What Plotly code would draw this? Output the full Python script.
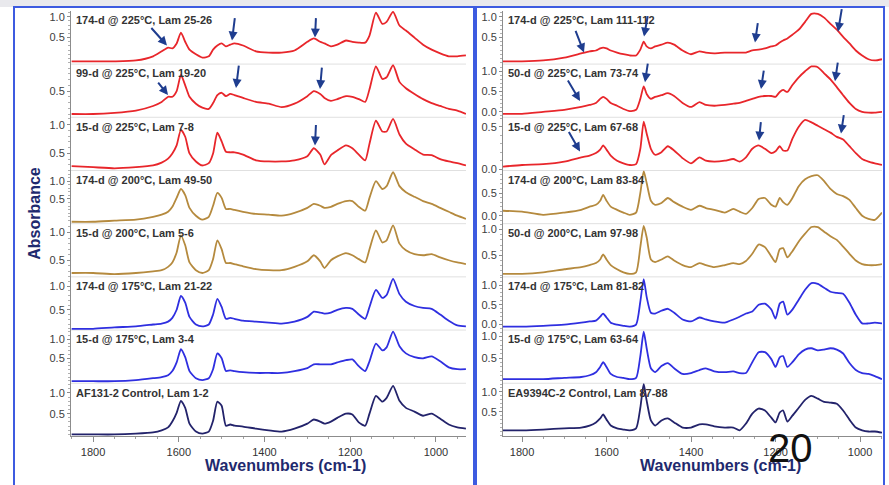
import plotly.graph_objects as go

# ---------------- data ----------------
wn_left = [1850, 1800, 1750, 1700, 1660, 1640, 1625, 1615, 1605, 1595,
           1585, 1575, 1560, 1545, 1530, 1520, 1510, 1500, 1490, 1480,
           1470, 1450, 1420, 1390, 1360, 1330, 1300, 1285, 1270, 1260,
           1245, 1230, 1210, 1195, 1180, 1165, 1155, 1140, 1125, 1115,
           1100, 1085, 1070, 1050, 1030, 1010, 990, 970, 950, 930]

af_174d_225 = [-0.07, -0.07, -0.07, -0.05, 0.05, 0.17, 0.26, 0.24, 0.36, 0.62,
               0.40, 0.21, 0.10, 0.02, 0.05, 0.21, 0.31, 0.36, 0.29, 0.33,
               0.36, 0.31, 0.17, 0.14, 0.14, 0.19, 0.40, 0.48, 0.40, 0.36,
               0.29, 0.33, 0.43, 0.40, 0.38, 0.38, 0.55, 1.10, 0.83, 0.88,
               1.12, 0.79, 0.67, 0.50, 0.33, 0.21, 0.12, 0.05, 0.05, 0.07]
af_99d_225 = [0.10, 0.10, 0.12, 0.16, 0.24, 0.31, 0.40, 0.40, 0.50, 0.78,
              0.60, 0.40, 0.28, 0.21, 0.19, 0.29, 0.43, 0.47, 0.41, 0.45,
              0.43, 0.38, 0.31, 0.28, 0.22, 0.28, 0.41, 0.50, 0.45, 0.38,
              0.33, 0.36, 0.41, 0.40, 0.36, 0.31, 0.53, 0.93, 0.71, 0.74,
              0.95, 0.66, 0.55, 0.45, 0.36, 0.29, 0.24, 0.19, 0.16, 0.10]
af_15d_225 = [0.28, 0.26, 0.24, 0.26, 0.29, 0.34, 0.41, 0.50, 0.64, 0.91,
              0.79, 0.50, 0.36, 0.29, 0.33, 0.50, 0.86, 0.71, 0.53, 0.52,
              0.52, 0.48, 0.38, 0.36, 0.36, 0.38, 0.45, 0.59, 0.48, 0.31,
              0.47, 0.55, 0.64, 0.59, 0.48, 0.38, 0.67, 1.07, 0.88, 0.88,
              1.10, 0.83, 0.67, 0.57, 0.48, 0.47, 0.40, 0.36, 0.33, 0.29]
af_174d_200 = [-0.14, -0.14, -0.11, -0.08, 0.00, 0.06, 0.14, 0.28, 0.53, 0.78,
               0.61, 0.25, 0.03, -0.08, 0.00, 0.31, 0.67, 0.53, 0.22, 0.22,
               0.19, 0.14, 0.08, 0.06, 0.03, 0.11, 0.25, 0.36, 0.31, 0.25,
               0.28, 0.36, 0.44, 0.44, 0.28, 0.17, 0.53, 1.00, 0.78, 0.86,
               1.25, 0.86, 0.69, 0.56, 0.44, 0.36, 0.25, 0.14, 0.03, -0.06]
af_15d_200 = [0.27, 0.27, 0.25, 0.27, 0.30, 0.32, 0.38, 0.46, 0.64, 0.95,
              0.77, 0.46, 0.32, 0.27, 0.32, 0.52, 0.86, 0.70, 0.45, 0.45,
              0.43, 0.39, 0.34, 0.32, 0.32, 0.38, 0.48, 0.59, 0.48, 0.36,
              0.50, 0.57, 0.63, 0.59, 0.52, 0.46, 0.70, 1.04, 0.82, 0.86,
              1.13, 0.80, 0.68, 0.61, 0.59, 0.61, 0.55, 0.50, 0.46, 0.43]
af_174d_175 = [0.10, 0.10, 0.13, 0.15, 0.19, 0.21, 0.25, 0.33, 0.50, 0.79,
               0.65, 0.35, 0.19, 0.15, 0.19, 0.40, 0.73, 0.56, 0.31, 0.33,
               0.31, 0.27, 0.25, 0.23, 0.21, 0.25, 0.35, 0.46, 0.44, 0.42,
               0.44, 0.50, 0.54, 0.52, 0.40, 0.31, 0.56, 0.92, 0.75, 0.81,
               1.15, 0.83, 0.67, 0.58, 0.54, 0.52, 0.40, 0.27, 0.17, 0.15]
af_15d_175 = [-0.11, -0.11, -0.11, -0.08, -0.03, 0.00, 0.05, 0.16, 0.39, 0.74,
              0.53, 0.16, -0.03, -0.08, -0.03, 0.21, 0.63, 0.50, 0.16, 0.18,
              0.16, 0.13, 0.11, 0.11, 0.11, 0.16, 0.24, 0.34, 0.34, 0.34,
              0.34, 0.39, 0.45, 0.47, 0.29, 0.16, 0.42, 0.89, 0.71, 0.79,
              1.21, 0.82, 0.63, 0.53, 0.50, 0.55, 0.42, 0.26, 0.21, 0.21]
af_control = [0.00, 0.00, 0.00, 0.02, 0.05, 0.10, 0.17, 0.31, 0.52, 0.81,
              0.64, 0.26, 0.07, 0.02, 0.07, 0.33, 0.79, 0.69, 0.21, 0.24,
              0.21, 0.19, 0.14, 0.10, 0.07, 0.14, 0.26, 0.36, 0.31, 0.26,
              0.31, 0.40, 0.50, 0.48, 0.29, 0.21, 0.50, 0.93, 0.79, 0.88,
              1.17, 0.81, 0.64, 0.55, 0.45, 0.50, 0.38, 0.24, 0.17, 0.14]

wn_right = [1845, 1800, 1750, 1700, 1660, 1640, 1625, 1615, 1608, 1600,
            1590, 1575, 1560, 1545, 1530, 1520, 1512, 1505, 1495, 1485,
            1470, 1455, 1440, 1420, 1400, 1380, 1365, 1345, 1320, 1300,
            1285, 1270, 1255, 1240, 1225, 1210, 1200, 1190, 1182, 1172,
            1160, 1145, 1130, 1115, 1100, 1085, 1070, 1055, 1040, 1025,
            1010, 995, 980, 965, 948]

ea_174d_225 = [-0.07, -0.07, -0.05, 0.02, 0.12, 0.17, 0.19, 0.24, 0.26, 0.24,
               0.19, 0.14, 0.10, 0.07, 0.07, 0.21, 0.40, 0.29, 0.24, 0.29,
               0.33, 0.38, 0.33, 0.19, 0.10, 0.17, 0.14, 0.12, 0.14, 0.14,
               0.14, 0.14, 0.19, 0.21, 0.24, 0.29, 0.31, 0.38, 0.43, 0.48,
               0.57, 0.69, 0.88, 1.07, 1.07, 0.98, 0.83, 0.69, 0.52, 0.36,
               0.19, 0.07, -0.02, -0.05, -0.02]
ea_50d_225 = [-0.05, -0.05, 0.00, 0.05, 0.12, 0.17, 0.22, 0.32, 0.37, 0.32,
              0.22, 0.15, 0.07, 0.02, 0.05, 0.32, 0.63, 0.44, 0.32, 0.37,
              0.41, 0.46, 0.39, 0.22, 0.12, 0.24, 0.17, 0.15, 0.17, 0.20,
              0.22, 0.27, 0.32, 0.37, 0.39, 0.39, 0.37, 0.49, 0.54, 0.49,
              0.66, 0.85, 1.00, 1.12, 1.10, 0.95, 0.80, 0.61, 0.41, 0.22,
              0.07, 0.00, -0.02, -0.02, 0.00]
ea_15d_225 = [0.03, 0.05, 0.06, 0.09, 0.14, 0.16, 0.19, 0.23, 0.28, 0.23,
              0.16, 0.10, 0.07, 0.05, 0.06, 0.24, 0.56, 0.42, 0.24, 0.17,
              0.20, 0.27, 0.22, 0.13, 0.07, 0.14, 0.10, 0.09, 0.10, 0.12,
              0.09, 0.14, 0.24, 0.28, 0.24, 0.19, 0.21, 0.27, 0.22, 0.22,
              0.36, 0.50, 0.58, 0.55, 0.51, 0.47, 0.43, 0.38, 0.35, 0.27,
              0.19, 0.12, 0.09, 0.07, 0.05]
ea_174d_200 = [0.11, 0.09, 0.02, 0.07, 0.13, 0.20, 0.24, 0.33, 0.46, 0.33,
               0.20, 0.13, 0.07, 0.02, 0.07, 0.50, 0.98, 0.72, 0.33, 0.24,
               0.28, 0.39, 0.30, 0.20, 0.13, 0.22, 0.17, 0.13, 0.07, 0.15,
               0.09, 0.04, 0.17, 0.37, 0.39, 0.24, 0.20, 0.39, 0.30, 0.24,
               0.39, 0.65, 0.80, 0.87, 0.89, 0.76, 0.59, 0.48, 0.43, 0.35,
               0.17, 0.00, -0.07, -0.09, 0.07]
ea_50d_200 = [0.14, 0.14, 0.17, 0.23, 0.27, 0.31, 0.35, 0.42, 0.52, 0.42,
              0.31, 0.23, 0.17, 0.14, 0.17, 0.66, 1.07, 0.85, 0.42, 0.37,
              0.42, 0.48, 0.40, 0.31, 0.27, 0.35, 0.31, 0.27, 0.31, 0.35,
              0.33, 0.39, 0.53, 0.71, 0.66, 0.48, 0.37, 0.62, 0.64, 0.46,
              0.58, 0.77, 0.92, 1.05, 1.05, 0.96, 0.87, 0.80, 0.67, 0.53,
              0.40, 0.33, 0.31, 0.31, 0.33]
ea_174d_175 = [-0.05, -0.05, -0.03, 0.00, 0.05, 0.08, 0.10, 0.20, 0.28, 0.18,
               0.05, 0.00, -0.03, -0.05, 0.00, 0.58, 1.15, 0.70, 0.30, 0.28,
               0.35, 0.40, 0.30, 0.13, 0.08, 0.18, 0.13, 0.08, 0.05, 0.13,
               0.20, 0.28, 0.33, 0.50, 0.53, 0.38, 0.15, 0.53, 0.58, 0.25,
               0.38, 0.63, 0.88, 1.05, 1.03, 0.93, 0.83, 0.80, 0.78, 0.55,
               0.25, 0.03, 0.03, 0.05, 0.03]
ea_15d_175 = [0.02, 0.02, 0.02, 0.05, 0.07, 0.11, 0.18, 0.30, 0.41, 0.30,
              0.14, 0.07, 0.05, 0.02, 0.05, 0.55, 1.11, 0.73, 0.27, 0.18,
              0.32, 0.39, 0.27, 0.14, 0.16, 0.23, 0.27, 0.20, 0.18, 0.20,
              0.16, 0.16, 0.41, 0.64, 0.64, 0.48, 0.30, 0.52, 0.55, 0.30,
              0.41, 0.59, 0.70, 0.73, 0.68, 0.70, 0.73, 0.70, 0.61, 0.39,
              0.23, 0.16, 0.14, 0.09, 0.02]
ea_control = [0.03, 0.03, 0.05, 0.08, 0.10, 0.15, 0.23, 0.33, 0.43, 0.30,
              0.15, 0.08, 0.05, 0.03, 0.08, 0.60, 1.20, 0.78, 0.28, 0.15,
              0.28, 0.33, 0.23, 0.10, 0.10, 0.18, 0.18, 0.13, 0.10, 0.10,
              0.03, 0.20, 0.45, 0.58, 0.53, 0.35, 0.23, 0.48, 0.53, 0.25,
              0.40, 0.60, 0.80, 0.90, 0.83, 0.75, 0.73, 0.70, 0.53, 0.30,
              0.10, 0.03, 0.00, 0.00, -0.03]

left_labels = ["174-d @ 225°C, Lam 25-26", "99-d @ 225°C, Lam 19-20",
               "15-d @ 225°C, Lam 7-8", "174-d @ 200°C, Lam 49-50",
               "15-d @ 200°C, Lam 5-6", "174-d @ 175°C, Lam 21-22",
               "15-d @ 175°C, Lam 3-4", "AF131-2 Control, Lam 1-2"]
right_labels = ["174-d @ 225°C, Lam 111-112", "50-d @ 225°C, Lam 73-74",
                "15-d @ 225°C, Lam 67-68", "174-d @ 200°C, Lam 83-84",
                "50-d @ 200°C, Lam 97-98", "174-d @ 175°C, Lam 81-82",
                "15-d @ 175°C, Lam 63-64", "EA9394C-2 Control, Lam 87-88"]

left_yticks = [[0.5, 1.0], [0.5], [0.5, 1.0], [0.5, 1.0],
               [0.5, 1.0], [0.5, 1.0], [0.5, 1.0], [0.5, 1.0]]
right_yticks = [[0.5, 1.0], [0.0, 0.5, 1.0], [0.0, 0.5], [0.0, 0.5],
                [0.5, 1.0], [0.0, 0.5, 1.0], [0.5, 1.0], [0.5, 1.0]]
x_ticks = [1800, 1600, 1400, 1200, 1000]

# ---------------- styling / layout ----------------
W, H = 889, 485
RED, BROWN, BLUE, NAVY = "#e8262b", "#b58a3e", "#2f2fe0", "#23236b"
row_colors = [RED, RED, RED, BROWN, BROWN, BLUE, BLUE, NAVY]
ARROW = "#1f3d8f"
FONT = "Liberation Sans, Arial, sans-serif"

left_yranges = [[-0.137, 1.143], [0.043, 0.97], [0.203, 1.129], [-0.194, 1.30],
                [0.20, 1.16], [0.073, 1.193], [-0.164, 1.25], [-0.048, 1.232]]
right_yranges = [[-0.137, 1.143], [-0.134, 1.177], [-0.0145, 0.61], [-0.174, 0.995],
                 [0.082, 1.115], [-0.1375, 1.206], [-0.074, 1.148], [-0.125, 1.219]]


def px(x):
    return x / W


def py(y):
    return 1 - y / H


TOP, ROWH = 11.0, 53.75

panels = [
    dict(wn=wn_left, series=[af_174d_225, af_99d_225, af_15d_225, af_174d_200,
                             af_15d_200, af_174d_175, af_15d_175, af_control],
         labels=left_labels, yranges=left_yranges, yticks=left_yticks,
         xdom=(71, 466), xrange=[1851.5, 929.8], lab_x=74, title_x=285),
    dict(wn=wn_right, series=[ea_174d_225, ea_50d_225, ea_15d_225, ea_174d_200,
                              ea_50d_200, ea_174d_175, ea_15d_175, ea_control],
         labels=right_labels, yranges=right_yranges, yticks=right_yticks,
         xdom=(503, 882), xrange=[1845, 948], lab_x=506, title_x=720),
]

fig = go.Figure()
layout = {}
annotations = []
shapes = []

for p, pan in enumerate(panels):
    for r in range(8):
        k = p * 8 + r + 1
        xs = "x" if k == 1 else f"x{k}"
        ys = "y" if k == 1 else f"y{k}"
        xkey = "xaxis" if k == 1 else f"xaxis{k}"
        ykey = "yaxis" if k == 1 else f"yaxis{k}"
        T = TOP + ROWH * r
        B = T + ROWH
        fig.add_trace(go.Scatter(
            x=pan["wn"], y=pan["series"][r], mode="lines",
            line=dict(color=row_colors[r], width=1.8, shape="spline", smoothing=0.6),
            xaxis=xs, yaxis=ys, showlegend=False, hoverinfo="skip"))
        bottom = (r == 7)
        layout[xkey] = dict(
            domain=[px(pan["xdom"][0]), px(pan["xdom"][1])],
            range=pan["xrange"], anchor=ys, visible=bottom,
            showline=True, linecolor="#8c8c8c", linewidth=1,
            ticks="outside", ticklen=5, tickcolor="#8c8c8c",
            tickmode="array", tickvals=x_ticks,
            tickfont=dict(family=FONT, size=11, color="#333333"),
            minor=dict(ticks="outside", ticklen=2, tickcolor="#a0a0a0",
                       tickmode="linear", tick0=1000, dtick=50),
            showgrid=False, zeroline=False, fixedrange=True)
        layout[ykey] = dict(
            domain=[py(B), py(T)], range=pan["yranges"][r], anchor=xs,
            showline=True, linecolor="#8c8c8c", linewidth=1,
            ticks="outside", ticklen=3, tickcolor="#8c8c8c",
            tickmode="array", tickvals=pan["yticks"][r], tickformat=".1f",
            tickfont=dict(family=FONT, size=11, color="#404040"),
            minor=dict(ticks="outside", ticklen=2, tickcolor="#b0b0b0",
                       tickmode="linear", tick0=0, dtick=0.1),
            showgrid=False, zeroline=False, fixedrange=True)
        annotations.append(dict(
            x=px(pan["lab_x"]), y=py(T + 9.5), xref="paper", yref="paper",
            text=f"<b>{pan['labels'][r]}</b>", showarrow=False,
            xanchor="left", yanchor="middle",
            font=dict(family=FONT, size=11, color="#333333")))
        if r > 0:
            shapes.append(dict(type="line", xref="paper", yref="paper",
                               x0=px(pan["xdom"][0]), x1=px(pan["xdom"][1]),
                               y0=py(T), y1=py(T), layer="below",
                               line=dict(color="#e0e0e0", width=1)))
    annotations.append(dict(
        x=px(pan["title_x"]), y=py(470), xref="paper", yref="paper",
        text="<b>Wavenumbers (cm-1)</b>", showarrow=False,
        xanchor="center", yanchor="middle",
        font=dict(family=FONT, size=16, color="#1f2a6e")))

annotations.append(dict(
    x=px(35), y=py(216), xref="paper", yref="paper", text="<b>Absorbance</b>",
    showarrow=False, textangle=-90, xanchor="center", yanchor="middle",
    font=dict(family=FONT, size=16, color="#1f2a6e")))

# arrows: (head_x, head_y, tail_x, tail_y) in page pixels
arrows = [
    (167, 46, 150, 27), (232, 41, 235, 17), (315, 38, 316, 17),
    (168, 96, 157, 82), (236, 89, 239, 65), (320, 90, 322, 67),
    (315, 147, 316, 125),
    (584, 53, 575, 30), (644, 37, 648, 15), (755, 43, 758, 22), (838, 32, 842, 8),
    (580, 102, 567, 80), (645, 83, 648, 63), (761, 90, 764, 70), (835, 82, 838, 62),
    (580, 153, 568, 132), (759, 142, 761, 122), (841, 135, 844, 115),
]
for hx, hy, tx, ty in arrows:
    annotations.append(dict(
        x=px(hx), y=py(hy), xref="paper", yref="paper", text="",
        showarrow=True, arrowhead=2, arrowsize=0.9, arrowwidth=2,
        arrowcolor=ARROW, ax=tx - hx, ay=ty - hy, standoff=0))

annotations.append(dict(
    x=px(790), y=py(453), xref="paper", yref="paper", text="20",
    showarrow=False, xanchor="center", yanchor="middle",
    font=dict(family=FONT, size=40, color="#111111")))

# slide decoration: top gray band and blue panel frames
shapes.append(dict(type="rect", xref="paper", yref="paper", x0=0, x1=1,
                   y0=py(7), y1=1, fillcolor="#e9e9ed", line=dict(width=0),
                   layer="below"))
for x0, x1 in [(14, 474), (476, 884)]:
    shapes.append(dict(type="rect", xref="paper", yref="paper",
                       x0=px(x0), x1=px(x1), y0=py(500), y1=py(7),
                       line=dict(color="#3d5be0", width=2), fillcolor="rgba(0,0,0,0)"))

fig.update_layout(
    width=W, height=H, autosize=False,
    margin=dict(l=0, r=0, t=0, b=0),
    paper_bgcolor="white", plot_bgcolor="white",
    annotations=annotations, shapes=shapes, **layout)

fig.write_html("out.html")
